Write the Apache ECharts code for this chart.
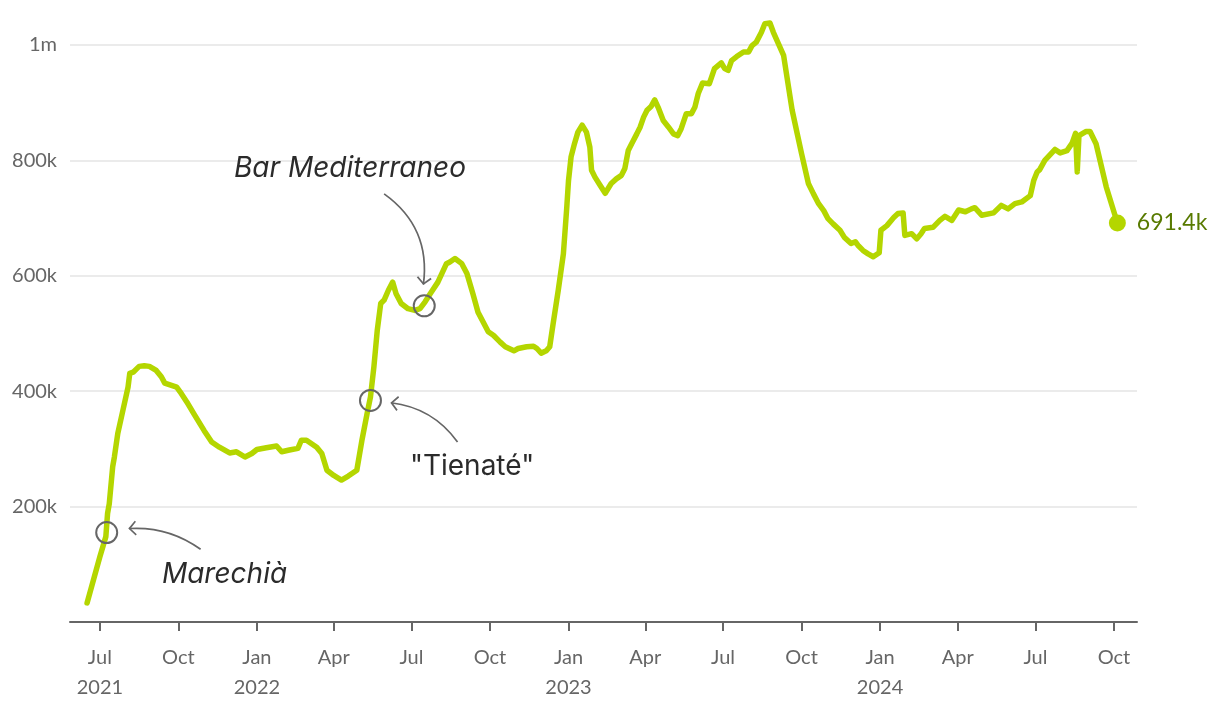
<!DOCTYPE html>
<html><head><meta charset="utf-8">
<script src="https://cdn.jsdelivr.net/npm/echarts@6/dist/echarts.min.js"></script>
<style>html,body{margin:0;padding:0;background:#fff}#c{width:1220px;height:714px}</style>
</head><body><div id="c"></div>
<script>
// ---- data (values in thousands) ----
const dates = [
'2021-06-16','2021-07-01','2021-07-08','2021-07-10','2021-07-12','2021-07-16','2021-07-18','2021-07-22','2021-07-28','2021-08-03',
'2021-08-05','2021-08-09','2021-08-16','2021-08-22','2021-08-28','2021-09-05','2021-09-11','2021-09-15','2021-09-29','2021-10-03',
'2021-10-11','2021-10-19','2021-10-31','2021-11-09','2021-11-18','2021-11-30','2021-12-08','2021-12-18','2021-12-26','2022-01-01',
'2022-01-12','2022-01-24','2022-01-30','2022-02-08','2022-02-18','2022-02-22','2022-02-28','2022-03-12','2022-03-18','2022-03-24',
'2022-04-01','2022-04-10','2022-04-18','2022-04-28','2022-04-30','2022-05-04','2022-05-10','2022-05-14','2022-05-18','2022-05-22',
'2022-05-26','2022-05-30','2022-06-04','2022-06-09','2022-06-13','2022-06-19','2022-06-27','2022-07-05','2022-07-11','2022-07-17',
'2022-07-23','2022-08-01','2022-08-11','2022-08-15','2022-08-21','2022-08-29','2022-09-04','2022-09-11','2022-09-17','2022-09-29',
'2022-10-05','2022-10-13','2022-10-19','2022-10-29','2022-11-03','2022-11-13','2022-11-21','2022-11-25','2022-11-30','2022-12-06',
'2022-12-10','2022-12-14','2022-12-20','2022-12-26','2022-12-30','2023-01-01','2023-01-04','2023-01-08','2023-01-12','2023-01-17',
'2023-01-22','2023-01-26','2023-01-28','2023-02-01','2023-02-07','2023-02-13','2023-02-20','2023-02-26','2023-03-04','2023-03-08',
'2023-03-12','2023-03-16','2023-03-22','2023-03-26','2023-03-30','2023-04-03','2023-04-08','2023-04-12','2023-04-16','2023-04-22',
'2023-04-28','2023-05-04','2023-05-09','2023-05-13','2023-05-19','2023-05-25','2023-05-29','2023-06-02','2023-06-07','2023-06-15',
'2023-06-21','2023-06-29','2023-07-03','2023-07-07','2023-07-11','2023-07-17','2023-07-25','2023-07-31','2023-08-04','2023-08-09',
'2023-08-15','2023-08-19','2023-08-25','2023-08-29','2023-09-04','2023-09-10','2023-09-14','2023-09-20','2023-09-26','2023-10-01',
'2023-10-09','2023-10-15','2023-10-21','2023-10-27','2023-11-01','2023-11-07','2023-11-15','2023-11-20','2023-11-28','2023-12-03',
'2023-12-06','2023-12-12','2023-12-18','2023-12-24','2023-12-31','2024-01-02','2024-01-09','2024-01-17','2024-01-22','2024-01-28',
'2024-01-30','2024-02-07','2024-02-13','2024-02-18','2024-02-22','2024-03-03','2024-03-11','2024-03-17','2024-03-25','2024-04-02',
'2024-04-10','2024-04-17','2024-04-21','2024-04-29','2024-05-13','2024-05-22','2024-05-30','2024-06-07','2024-06-15','2024-06-25',
'2024-06-29','2024-07-03','2024-07-06','2024-07-12','2024-07-24','2024-07-30','2024-08-07','2024-08-13','2024-08-17','2024-08-19',
'2024-08-21','2024-08-29','2024-09-03','2024-09-10','2024-09-22','2024-10-05'
];
const values = [
33,113,148,188,205,269,286,327,367,407,
431,433,443,444,443,436,425,414,407,399,
381,361,332,312,303,293,295,286,292,299,
302,305,295,298,301,315,315,303,292,263,
254,246,253,263,266,315,361,390,442,506,
552,558,575,589,569,552,543,540,543,555,
569,589,621,624,630,621,604,569,537,503,
497,485,477,470,474,477,478,474,466,470,
477,517,575,638,719,765,806,829,849,861,
849,823,783,771,757,743,760,768,774,786,
817,829,846,858,875,887,894,905,892,869,
858,846,843,855,881,881,892,916,934,933,
959,969,959,956,973,980,988,988,999,1005,
1022,1037,1038,1022,1002,982,944,887,846,812,
760,742,725,713,699,690,679,667,656,659,
653,644,638,633,640,679,687,701,708,709,
670,673,664,673,682,684,696,703,696,714,
711,716,718,705,709,722,716,725,728,739,
765,780,784,800,819,813,817,830,847,780,
843,850,850,829,754,691.4
];
const tickDates = ['2021-07-01','2021-10-01','2022-01-01','2022-04-01','2022-07-01','2022-10-01','2023-01-01','2023-04-01','2023-07-01','2023-10-01','2024-01-01','2024-04-01','2024-07-01','2024-10-01'];
const tickLabels = ['Jul\n2021','Oct','Jan\n2022','Apr','Jul','Oct','Jan\n2023','Apr','Jul','Oct','Jan\n2024','Apr','Jul','Oct'];
const xRange = ['2021-05-27','2024-10-28'];
const yTicks = [0, 200, 400, 600, 800, 1000];

// annotations: label, circled point, text anchor, arrow tail, arrow head, curveness, italic
const annLabels   = ['Marechià', '"Tienaté"', 'Bar Mediterraneo'];
const annPoints   = [['2021-07-09',155], ['2022-05-14',384], ['2022-07-16',548]];
const annTexts    = [['2021-11-24',83], ['2022-09-10',270], ['2022-04-20',786]];
const annFrom     = [['2021-10-27',126], ['2022-08-24',312], ['2022-05-30',742]];
const annTo       = [['2021-08-04',162], ['2022-06-07',380], ['2022-07-15',585]];
const annCurve    = [-0.18, -0.22, 0.3];
const annItalic   = [true, false, true];

// ---- build ----
const ts = s => new Date(s + 'T00:00:00').getTime();
const K = 1000;
const lineData = dates.map((d, i) => [ts(d), values[i] * K]);
const tickTs = tickDates.map(ts);
const labelMap = {};
tickTs.forEach((t, i) => labelMap[t] = tickLabels[i]);
const LIME = '#b4d600';
const GRAY = '#666666';
// open chevron, tip at the symbol centre (a tiny dot keeps the box square)
const chevron = 'path://M10,10 L20,20 L18.3,21.7 L10,13.4 L1.7,21.7 L0,20 Z M10,0 L10.1,0 L10,0.1 Z';
const last = lineData[lineData.length - 1];

const chart = echarts.init(document.getElementById('c'), null, {renderer: 'canvas'});
chart.setOption({
  animation: false,
  backgroundColor: '#ffffff',
  grid: {left: 70, right: 83, top: 45, bottom: 92, containLabel: false},
  xAxis: {
    type: 'value',
    min: ts(xRange[0]), max: ts(xRange[1]),
    axisLine: {show: true, lineStyle: {color: GRAY, width: 2}},
    axisTick: {show: true, customValues: tickTs, length: 9, lineStyle: {color: GRAY, width: 2}},
    axisLabel: {
      customValues: tickTs,
      formatter: v => labelMap[v] || '',
      color: GRAY, fontSize: 20, fontFamily: 'Lato', lineHeight: 30, margin: 21
    },
    splitLine: {show: false}
  },
  yAxis: {
    type: 'value',
    min: yTicks[0] * K, max: yTicks[yTicks.length - 1] * K, interval: (yTicks[1] - yTicks[0]) * K,
    axisLine: {show: false}, axisTick: {show: false},
    splitLine: {show: true, lineStyle: {color: '#e4e4e4', width: 1.5}},
    axisLabel: {
      formatter: v => v === 0 ? '' : (v >= 1e6 ? (v / 1e6) + 'm' : (v / 1000) + 'k'),
      color: GRAY, fontSize: 20, fontFamily: 'Lato', margin: 13
    }
  },
  series: [
    {
      type: 'line', data: lineData, showSymbol: false, clip: false, z: 3,
      lineStyle: {color: LIME, width: 5.5, cap: 'round', join: 'round', opacity: 1}
    },
    {
      type: 'scatter', data: annPoints.map(p => [ts(p[0]), p[1] * K]), z: 4, silent: true,
      symbol: 'circle', symbolSize: 21,
      itemStyle: {color: 'rgba(0,0,0,0)', borderColor: GRAY, borderWidth: 2, opacity: 1}
    },
    {
      type: 'lines', coordinateSystem: 'cartesian2d', z: 4, silent: true,
      data: annFrom.map((f, i) => ({
        coords: [[ts(f[0]), f[1] * K], [ts(annTo[i][0]), annTo[i][1] * K]],
        lineStyle: {curveness: annCurve[i]}
      })),
      symbol: ['none', chevron], symbolSize: 15,
      lineStyle: {color: GRAY, width: 1.7, opacity: 1}
    },
    {
      type: 'scatter', z: 5, silent: true, symbol: 'circle', symbolSize: 1,
      itemStyle: {color: 'rgba(0,0,0,0)', opacity: 1},
      data: annTexts.map((p, i) => ({
        name: annLabels[i], value: [ts(p[0]), p[1] * K],
        label: {fontStyle: annItalic[i] ? 'italic' : 'normal'}
      })),
      label: {show: true, position: 'inside', formatter: '{b}', color: '#2b2b2b', opacity: 1,
        fontSize: 28, fontFamily: 'Inter', textBorderWidth: 0}
    },
    {
      type: 'scatter', z: 6, silent: true, symbol: 'circle', symbolSize: 17,
      itemStyle: {color: LIME, opacity: 1},
      data: [last],
      label: {
        show: true, position: 'right', distance: 11, opacity: 1,
        formatter: p => (p.value[1] / 1000).toFixed(1) + 'k',
        color: '#587a00', fontSize: 23, fontFamily: 'Lato'
      }
    }
  ]
});
</script></body></html>
